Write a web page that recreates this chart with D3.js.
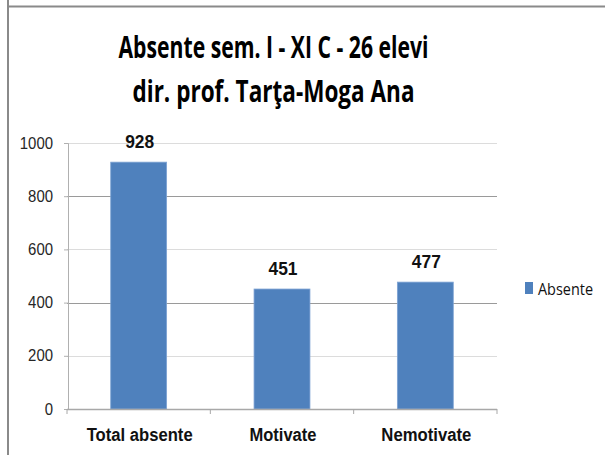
<!DOCTYPE html>
<html>
<head>
<meta charset="utf-8">
<script src="https://cdn.jsdelivr.net/npm/d3@7"></script>
<style>
  html, body { margin: 0; padding: 0; background: #fff; }
  svg { display: block; }
</style>
</head>
<body>
<svg id="chart" width="605" height="455"></svg>
<script>
// Absences, first semester, class XI C
const categories = ["Total absente", "Motivate", "Nemotivate"];
const absente = [928, 451, 477];
const yTicks = [0, 200, 400, 600, 800, 1000];
const titleLines = ["Absente sem. I - XI C - 26 elevi", "dir. prof. Tarţa-Moga Ana"];
const seriesName = "Absente";

const svg = d3.select("#chart");
const W = 605, H = 455;
const plot = { left: 67, right: 497, top: 143, bottom: 409 };
const barColor = "#4f81bd";

// frame edges
svg.append("line").attr("x1", 7).attr("x2", W).attr("y1", 6.5).attr("y2", 6.5)
  .attr("stroke", "#8a8a8a").attr("stroke-width", 2);
svg.append("line").attr("x1", 8).attr("x2", 8).attr("y1", 0).attr("y2", H)
  .attr("stroke", "#8a8a8a").attr("stroke-width", 2);

// title
const titleWidths = [310, 282];
svg.selectAll("text.title").data(titleLines).join("text")
  .attr("class", "title")
  .attr("x", 273.5)
  .attr("y", (d, i) => 58 + i * 44)
  .attr("text-anchor", "middle")
  .attr("font-family", "'Open Sans', 'Liberation Sans', sans-serif")
  .attr("font-weight", "bold")
  .attr("font-size", 31)
  .attr("textLength", (d, i) => titleWidths[i])
  .attr("lengthAdjust", "spacingAndGlyphs")
  .attr("fill", "#000")
  .text(d => d);

const x = d3.scaleBand().domain(categories).range([plot.left, plot.right]).padding(0);
const y = d3.scaleLinear().domain([0, 1000]).range([plot.bottom, plot.top]);

// gridlines
svg.append("g").selectAll("line").data(yTicks.filter(t => t > 0)).join("line")
  .attr("x1", plot.left).attr("x2", plot.right)
  .attr("y1", d => Math.round(y(d)) + 0.5).attr("y2", d => Math.round(y(d)) + 0.5)
  .attr("stroke", d => (d === 800 || d === 400) ? "#9a9a9a" : "#dcdcdc")
  .attr("stroke-width", 1.2);

// y axis
const yAxis = svg.append("g")
  .attr("transform", `translate(${plot.left + 1},0)`)
  .call(d3.axisLeft(y).tickValues(yTicks).tickSize(4).tickPadding(11).tickFormat(d3.format("d")));
yAxis.select(".domain").attr("stroke", "#b0b0b0");
yAxis.selectAll(".tick line").attr("stroke", "#b0b0b0");
yAxis.selectAll(".tick text")
  .attr("font-family", "'Liberation Sans', Arial, sans-serif")
  .attr("font-size", 16)
  .attr("fill", "#262626")
  .attr("textLength", d => String(d).length * 8.3)
  .attr("lengthAdjust", "spacingAndGlyphs");

// bars
const barFrac = 0.39;
const bw = x.bandwidth() * barFrac;
svg.append("g").selectAll("rect").data(absente).join("rect")
  .attr("x", (d, i) => x(categories[i]) + x.bandwidth() / 2 - bw / 2)
  .attr("y", d => y(d))
  .attr("width", bw)
  .attr("height", d => y(0) - y(d))
  .attr("fill", barColor)
  .attr("stroke", "#7ea3d4")
  .attr("stroke-width", 0.8);

// x axis
const xAxisG = svg.append("g").attr("transform", `translate(0,${plot.bottom})`);
xAxisG.append("line").attr("x1", plot.left).attr("x2", plot.right)
  .attr("y1", 0.5).attr("y2", 0.5).attr("stroke", "#a8a8a8").attr("stroke-width", 1.3);
const boundaries = categories.map(c => x(c)).concat([plot.right]);
xAxisG.selectAll("line.tk").data(boundaries).join("line")
  .attr("class", "tk")
  .attr("x1", d => d).attr("x2", d => d).attr("y1", 0).attr("y2", 5)
  .attr("stroke", "#a8a8a8");
const labelWidths = [106, 67, 90];
xAxisG.selectAll("text").data(categories).join("text")
  .attr("x", d => x(d) + x.bandwidth() / 2 + 1)
  .attr("y", 32)
  .attr("text-anchor", "middle")
  .attr("font-family", "'Liberation Sans', Arial, sans-serif")
  .attr("font-weight", "bold")
  .attr("font-size", 18)
  .attr("textLength", (d, i) => labelWidths[i])
  .attr("lengthAdjust", "spacingAndGlyphs")
  .attr("fill", "#111")
  .text(d => d);

// value labels
svg.append("g").selectAll("text").data(absente).join("text")
  .attr("x", (d, i) => x(categories[i]) + x.bandwidth() / 2 + 1)
  .attr("y", d => y(d) - 14)
  .attr("text-anchor", "middle")
  .attr("font-family", "'Liberation Sans', Arial, sans-serif")
  .attr("font-weight", "bold")
  .attr("font-size", 18)
  .attr("textLength", 29)
  .attr("lengthAdjust", "spacingAndGlyphs")
  .attr("fill", "#111")
  .text(d => d);

// legend
const legend = svg.append("g").attr("transform", "translate(525,282)");
legend.append("rect").attr("width", 8).attr("height", 12).attr("fill", barColor);
legend.append("text")
  .attr("x", 13).attr("y", 12.5)
  .attr("font-family", "'Open Sans', 'Liberation Sans', sans-serif")
  .attr("font-size", 17)
  .attr("textLength", 55)
  .attr("lengthAdjust", "spacingAndGlyphs")
  .attr("fill", "#111")
  .text(seriesName);
</script>
</body>
</html>
